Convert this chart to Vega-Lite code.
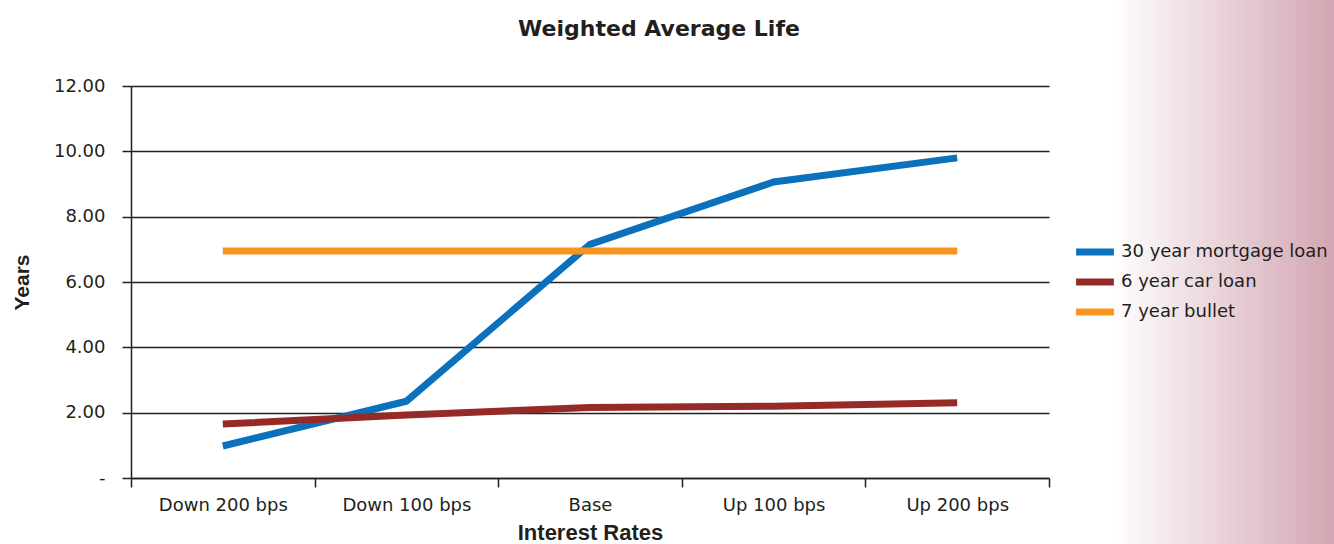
{
  "$schema": "https://vega.github.io/schema/vega-lite/v6.json",
  "width": 918,
  "height": 392,
  "autosize": {"type": "none"},
  "padding": {"left": 131, "top": 86, "right": 285, "bottom": 66},
  "background": "white",
  "title": {
    "text": "Weighted Average Life",
    "font": "DejaVu Sans",
    "fontSize": 22,
    "fontWeight": "bold",
    "color": "#231f20",
    "anchor": "middle",
    "frame": "group",
    "dx": 69,
    "offset": -58,
    "baseline": "alphabetic"
  },
  "data": {
    "values": [
      {"rate": "Down 200 bps", "series": "30 year mortgage loan", "years": 0.98},
      {"rate": "Down 100 bps", "series": "30 year mortgage loan", "years": 2.35},
      {"rate": "Base", "series": "30 year mortgage loan", "years": 7.15},
      {"rate": "Up 100 bps", "series": "30 year mortgage loan", "years": 9.06},
      {"rate": "Up 200 bps", "series": "30 year mortgage loan", "years": 9.8},
      {"rate": "Down 200 bps", "series": "6 year car loan", "years": 1.65},
      {"rate": "Down 100 bps", "series": "6 year car loan", "years": 1.93},
      {"rate": "Base", "series": "6 year car loan", "years": 2.16},
      {"rate": "Up 100 bps", "series": "6 year car loan", "years": 2.2},
      {"rate": "Up 200 bps", "series": "6 year car loan", "years": 2.3},
      {"rate": "Down 200 bps", "series": "7 year bullet", "years": 6.95},
      {"rate": "Down 100 bps", "series": "7 year bullet", "years": 6.95},
      {"rate": "Base", "series": "7 year bullet", "years": 6.95},
      {"rate": "Up 100 bps", "series": "7 year bullet", "years": 6.95},
      {"rate": "Up 200 bps", "series": "7 year bullet", "years": 6.95}
    ]
  },
  "mark": {"type": "line", "strokeWidth": 7, "strokeCap": "butt"},
  "encoding": {
    "x": {
      "field": "rate",
      "type": "ordinal",
      "sort": ["Down 200 bps", "Down 100 bps", "Base", "Up 100 bps", "Up 200 bps"],
      "scale": {"type": "band", "paddingInner": 0, "paddingOuter": 0},
      "bandPosition": 0.5,
      "title": "Interest Rates",
      "axis": {
        "tickBand": "extent",
        "tickSize": 9,
        "tickColor": "#231f20",
        "tickWidth": 1.5,
        "domainColor": "#231f20",
        "domainWidth": 1.5,
        "labelFont": "DejaVu Sans",
        "labelFontSize": 18,
        "labelColor": "#231f20",
        "labelPadding": 9,
        "labelAngle": 0,
        "grid": false,
        "titleFont": "Liberation Sans",
        "titleFontSize": 22,
        "titleFontWeight": "bold",
        "titleColor": "#231f20",
        "titleY": 61,
        "titleBaseline": "alphabetic"
      }
    },
    "y": {
      "field": "years",
      "type": "quantitative",
      "scale": {"domain": [0, 12], "nice": false},
      "title": "Years",
      "axis": {
        "values": [0, 2, 4, 6, 8, 10, 12],
        "labelExpr": "datum.value == 0 ? '-' : format(datum.value, '.2f')",
        "tickSize": 9,
        "tickColor": "#231f20",
        "tickWidth": 1.5,
        "domainColor": "#231f20",
        "domainWidth": 1.5,
        "grid": true,
        "gridColor": "#231f20",
        "gridWidth": 1.6,
        "gridOpacity": 1,
        "labelFont": "DejaVu Sans",
        "labelFontSize": 18,
        "labelColor": "#231f20",
        "labelPadding": 17,
        "titleFont": "Liberation Sans",
        "titleFontSize": 21,
        "titleFontWeight": "bold",
        "titleColor": "#231f20",
        "titleX": -103,
        "titleBaseline": "alphabetic"
      }
    },
    "color": {
      "field": "series",
      "type": "nominal",
      "scale": {
        "domain": ["30 year mortgage loan", "6 year car loan", "7 year bullet"],
        "range": ["#0b71bd", "#952a26", "#f7941e"]
      },
      "legend": {
        "orient": "none",
        "legendX": 712,
        "legendY": -86,
        "padding": 243,
        "title": null,
        "symbolType": "M-2.1,-0.39H2.1V0.39H-2.1Z",
        "symbolSize": 324,
        "symbolStrokeWidth": 0,
        "rowPadding": 12,
        "labelOffset": 17,
        "labelFont": "DejaVu Sans",
        "labelFontSize": 18,
        "labelColor": "#231f20",
        "labelLimit": 400,
        "encode": {
          "symbols": {
            "update": {
              "fill": {"scale": "color", "field": "value"},
              "fillOpacity": {"value": 1},
              "strokeWidth": {"value": 0}
            }
          },
          "legend": {
            "update": {
              "fill": {
                "value": {
                  "gradient": "linear",
                  "x1": 0, "y1": 0, "x2": 1, "y2": 0,
                  "stops": [
                    {"offset": 0, "color": "rgba(255,255,255,0)"},
                    {"offset": 0.362, "color": "rgba(255,255,255,0)"},
                    {"offset": 0.367, "color": "rgba(255,255,255,1)"},
                    {"offset": 0.675, "color": "#d2a6b2"},
                    {"offset": 1, "color": "#d2a6b2"}
                  ]
                }
              }
            }
          }
        }
      }
    }
  },
  "config": {
    "view": {"stroke": null}
  }
}
